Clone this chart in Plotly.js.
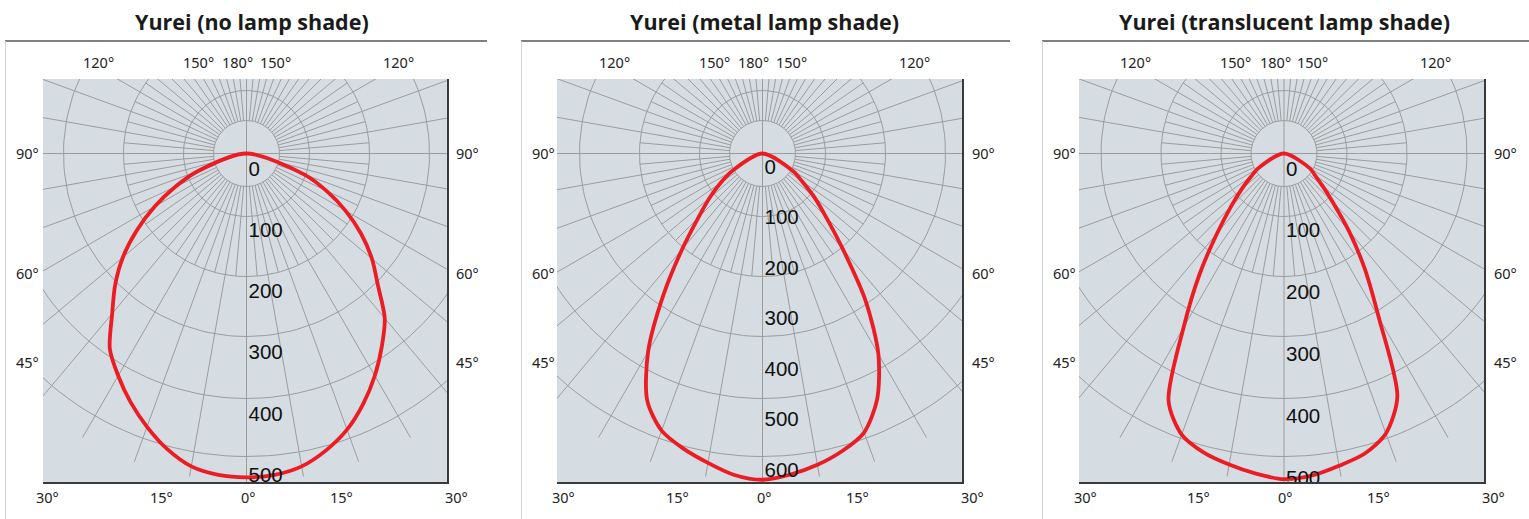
<!DOCTYPE html>
<html><head><meta charset="utf-8">
<script src="https://cdn.plot.ly/plotly-3.0.1.min.js"></script>
<style>html,body{margin:0;padding:0;background:#fff}</style>
</head><body><div id="chart" style="width:1529px;height:519px"></div>
<script>
// ---------------- data ----------------
const titles = ["Yurei (no lamp shade)", "Yurei (metal lamp shade)", "Yurei (translucent lamp shade)"];
// angle from nadir (degrees)
const gammaDeg = [0,5,10,15,20,25,30,35,40,45,50,55,60,65,70,75,80,85,90];
// luminous intensity (cd) on the right / left half-plane
const noShadeRight = [530,528,520,503,481,452,420,386,352,304,268,229,187,144,101,0,0,0,0];
const noShadeLeft  = [530,528,520,501,476,449,420,390,342,304,264,219,173,128,85,0,0,0,0];
const metalRight   = [646,638,626,610,588,537,459,356,248,178,133,95,71,0,0,0,0,0,0];
const metalLeft    = [646,639,622,605,584,540,453,342,248,180,137,101,70,0,0,0,0,0,0];
const transRight   = [527,523,513,503,482,434,307,228,163,112,81,61,49,0,0,0,0,0,0];
const transLeft    = [527,520,511,501,484,442,325,238,168,121,89,65,49,0,0,0,0,0,0];
// intensity scale labels
const noShadeLabels = [0,100,200,300,400,500];
const metalLabels   = [0,100,200,300,400,500,600];
const transLabels   = [0,100,200,300,400,500];
// angle labels
const topAngleLabels    = ["120°","150°","180°","150°","120°"];
const sideAngleLabels   = ["90°","60°","45°"];
const bottomAngleLabels = ["30°","15°","0°","15°","30°"];

// ---------------- layout geometry (pixels) ----------------
const W = 1529, H = 519;
const boxTop = 79, boxBottom = 482, cy = 153.5;
const panels = [
  {title: titles[0], right: noShadeRight, left: noShadeLeft, labels: noShadeLabels,
   box: [43, 447], cx: 246.5, pxPerCd: 0.611, labOff: 17.5, titleX: 251.5, frame: [5, 487]},
  {title: titles[1], right: metalRight, left: metalLeft, labels: metalLabels,
   box: [557, 962], cx: 762.5, pxPerCd: 0.505, labOff: 15, titleX: 764, frame: [521, 1010]},
  {title: titles[2], right: transRight, left: transLeft, labels: transLabels,
   box: [1079, 1484], cx: 1284, pxPerCd: 0.618, labOff: 17, titleX: 1284, frame: [1042, 1529]}
];
const ringPx = [33, 63, 123, 183, 245, 303];
const spokeIn = 33, spokeOut = 328;
const topLabelDx = [-148.5, -48.5, -9, 28.5, 151.5];
const bottomLabelDx = [-199, -85.5, 1.5, 94.5, 209.5];
const sideLabelY = [153, 273, 362];
const sideLabelDx = [-219.5, 221];

const GRID = '#9c9c9c', RED = '#ec1c24';
const px = x => x / W, py = y => 1 - y / H;
const rad = d => d * Math.PI / 180;

const traces = [], shapes = [], annotations = [];
const layout = {
  width: W, height: H, margin: {l: 0, r: 0, t: 0, b: 0},
  paper_bgcolor: '#ffffff', plot_bgcolor: '#d5dde3', showlegend: false,
  font: {family: 'Noto Sans, sans-serif'}
};

panels.forEach((p, i) => {
  const n = i === 0 ? '' : String(i + 1);
  const xa = 'x' + n, ya = 'y' + n;
  const s = p.pxPerCd;
  const leftPx = p.cx - p.box[0], rightPx = p.box[1] - p.cx;
  layout['xaxis' + n] = {
    domain: [px(p.box[0]), px(p.box[1])], range: [-leftPx / s, rightPx / s],
    showgrid: false, zeroline: false, showticklabels: false, ticks: '',
    showline: true, linecolor: '#3a3a3a', linewidth: 2, side: 'bottom', anchor: ya, fixedrange: true
  };
  layout['yaxis' + n] = {
    domain: [py(boxBottom), py(boxTop)], range: [-(boxBottom - cy) / s, (cy - boxTop) / s],
    showgrid: false, zeroline: false, showticklabels: false, ticks: '',
    showline: true, linecolor: '#3a3a3a', linewidth: 2, side: 'right', anchor: xa, fixedrange: true
  };
  // rings
  const rx = [], ry = [];
  ringPx.forEach(r => {
    for (let a = 0; a <= 360; a += 2) { rx.push(r / s * Math.sin(rad(a))); ry.push(-r / s * Math.cos(rad(a))); }
    rx.push(null); ry.push(null);
  });
  traces.push({type: 'scatter', mode: 'lines', x: rx, y: ry, xaxis: xa, yaxis: ya,
    line: {color: GRID, width: 1}, hoverinfo: 'skip'});
  // spokes
  const sx = [], sy = [];
  for (let a = 0; a < 360; a += 5) {
    let r0 = spokeIn, r1 = a % 10 === 0 ? spokeOut : 123;
    if (a % 90 === 0) { r0 = 0; r1 = 420; }
    sx.push(r0 / s * Math.sin(rad(a)), r1 / s * Math.sin(rad(a)), null);
    sy.push(-r0 / s * Math.cos(rad(a)), -r1 / s * Math.cos(rad(a)), null);
  }
  traces.push({type: 'scatter', mode: 'lines', x: sx, y: sy, xaxis: xa, yaxis: ya,
    line: {color: GRID, width: 1}, hoverinfo: 'skip'});
  // curve: apex -> right branch down -> bottom -> left branch up -> apex
  let k = p.right.findIndex(v => v === 0);
  let kl = p.left.findIndex(v => v === 0);
  const cxs = [0], cys = [0];
  for (let j = k - 1; j >= 0; j--) {
    const g = rad(gammaDeg[j]);
    cxs.push(p.right[j] * Math.sin(g)); cys.push(-p.right[j] * Math.cos(g));
  }
  for (let j = 1; j < kl; j++) {
    const g = rad(gammaDeg[j]);
    cxs.push(-p.left[j] * Math.sin(g)); cys.push(-p.left[j] * Math.cos(g));
  }
  cxs.push(0); cys.push(0);
  traces.push({type: 'scatter', mode: 'lines', x: cxs, y: cys, xaxis: xa, yaxis: ya,
    line: {color: RED, width: 3.8, shape: 'spline', smoothing: 0.8}, hoverinfo: 'skip'});
  // intensity labels (clipped to plot area)
  traces.push({type: 'scatter', mode: 'text', x: p.labels.map(() => 2 / s),
    y: p.labels.map(v => -(v + p.labOff / s)), text: p.labels.map(String),
    textposition: 'middle right', cliponaxis: true, xaxis: xa, yaxis: ya,
    textfont: {family: 'Liberation Sans, Arial, sans-serif', size: 20.5, color: '#111'}, hoverinfo: 'skip'});
  // title
  annotations.push({xref: 'paper', yref: 'paper', x: px(p.titleX), y: py(22), xanchor: 'center', yanchor: 'middle',
    text: '<b>' + p.title + '</b>', showarrow: false,
    font: {family: 'Open Sans, sans-serif', size: 21.5, color: '#1a1a1a'}});
  // angle labels
  const af = {family: 'Noto Sans, sans-serif', size: 14.5, color: '#222'};
  topAngleLabels.forEach((t, j) => annotations.push({xref: 'paper', yref: 'paper',
    x: px(p.cx + topLabelDx[j]), y: py(62), xanchor: 'center', yanchor: 'middle', text: t, showarrow: false, font: af}));
  bottomAngleLabels.forEach((t, j) => annotations.push({xref: 'paper', yref: 'paper',
    x: px(p.cx + bottomLabelDx[j]), y: py(497), xanchor: 'center', yanchor: 'middle', text: t, showarrow: false, font: af}));
  sideAngleLabels.forEach((t, j) => sideLabelDx.forEach(dx => annotations.push({xref: 'paper', yref: 'paper',
    x: px(p.cx + dx), y: py(sideLabelY[j]), xanchor: 'center', yanchor: 'middle', text: t, showarrow: false, font: af})));
  // panel frame
  shapes.push({type: 'line', xref: 'paper', yref: 'paper', x0: px(p.frame[0]), x1: px(p.frame[1]),
    y0: py(41), y1: py(41), line: {color: '#555', width: 1.5}});
  shapes.push({type: 'line', xref: 'paper', yref: 'paper', x0: px(p.frame[0] + 0.5), x1: px(p.frame[0] + 0.5),
    y0: py(41), y1: py(519), line: {color: '#d4d4d4', width: 1}});
});
layout.shapes = shapes;
layout.annotations = annotations;
Plotly.newPlot('chart', traces, layout, {staticPlot: true, displayModeBar: false});
</script>
</body></html>
